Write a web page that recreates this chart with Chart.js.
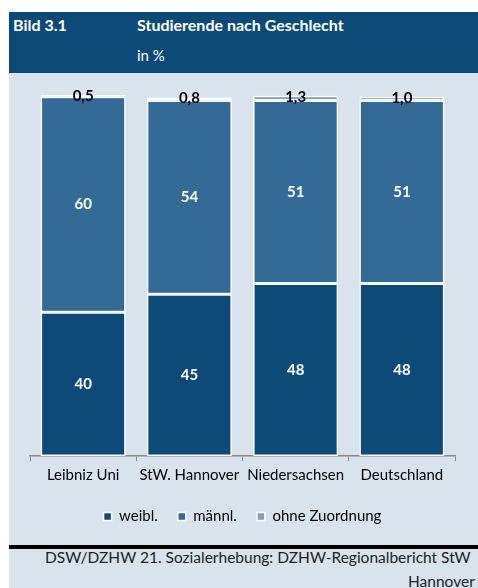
<!DOCTYPE html>
<html>
<head>
<meta charset="utf-8">
<script src="https://cdn.jsdelivr.net/npm/chart.js@4"></script>
<style>
  body { margin: 0; background: #fff; width: 478px; height: 588px; overflow: hidden; position: relative; font-family: Lato, sans-serif; }
  #panel { position: absolute; left: 9px; top: 12px; width: 480px; height: 580px; background: #d9e3ee; }
  #head { position: absolute; left: 0; top: 0; width: 100%; height: 61px; background: #0e4a78; color: #fff; font-size: 16px; }
  #head span { position: absolute; }
  #chartBox { position: absolute; left: 0; top: 61px; width: 469px; height: 472px; }
  #rule { position: absolute; left: 0; top: 533px; width: 100%; height: 4px; background: #000; }
  .foot { position: absolute; font-size: 15.5px; color: #222; white-space: nowrap; }
</style>
</head>
<body>
<div id="panel">
  <div id="head">
    <span style="left:4px;top:3px;font-weight:bold">Bild 3.1</span>
    <span style="left:128px;top:3px;font-weight:bold">Studierende nach Geschlecht</span>
    <span style="left:128px;top:34px;font-size:15px">in %</span>
  </div>
  <div id="chartBox"><canvas id="GenderChart"></canvas></div>
  <div id="rule"></div>
  <div class="foot" style="left:36px;top:536px">DSW/DZHW 21. Sozialerhebung: DZHW-Regionalbericht StW</div>
  <div class="foot" style="left:399px;top:560px">Hannover</div>
</div>
<script>
let Categories = ["Leibniz Uni", "StW. Hannover", "Niedersachsen", "Deutschland"]
let Weibl = [40, 45, 48, 48]
let Maennl = [60, 54, 51, 51]
let Ohne = [0.5, 0.8, 1.3, 1.0]

// draws the numbers into / on top of the bars
const valueLabels = {
  id: "valueLabels",
  afterDatasetsDraw(chart) {
    const ctx = chart.ctx
    ctx.save()
    ctx.font = "bold 15px Lato"
    ctx.textAlign = "center"
    ctx.textBaseline = "middle"
    chart.data.datasets.forEach((ds, i) => {
      chart.getDatasetMeta(i).data.forEach((bar, j) => {
        if (i == 2) {
          ctx.fillStyle = "#000"
          ctx.fillText(ds.data[j].toFixed(1).replace(".", ","), bar.x, bar.y + 1)
        } else {
          ctx.fillStyle = "#fff"
          ctx.fillText(Math.round(ds.data[j]), bar.x, (bar.y + bar.base) / 2)
        }
      })
    })
    ctx.restore()
  }
}

const ctx = document.getElementById("GenderChart").getContext("2d")

const config = {
  type: "bar",
  data: {
    labels: Categories,
    datasets: [
      { label: "weibl.", data: Weibl, backgroundColor: "#0e4a78" },
      { label: "männl.", data: Maennl, backgroundColor: "#336a96" },
      { label: "ohne Zuordnung", data: Ohne, backgroundColor: "#7f9fc0" }
    ]
  },
  options: {
    responsive: true,
    maintainAspectRatio: false,
    animation: false,
    layout: { padding: { left: 21, right: 23, top: 22, bottom: 11 } },
    datasets: {
      bar: { borderColor: "#fff", borderWidth: 1.5, borderSkipped: false, barPercentage: 0.8, categoryPercentage: 1 }
    },
    scales: {
      x: {
        stacked: true,
        grid: { offset: true, drawOnChartArea: false, drawTicks: true, tickLength: 5, color: "#8a8a8a" },
        border: { color: "#8a8a8a", width: 1.5 },
        ticks: { color: "#000", font: { family: "Lato", size: 15 }, padding: 5, maxRotation: 0 }
      },
      y: {
        stacked: true,
        display: false,
        min: 0,
        max: 100.5
      }
    },
    plugins: {
      legend: {
        position: "bottom",
        labels: { boxWidth: 8, boxHeight: 8, color: "#000", font: { family: "Lato", size: 15 }, padding: 20 }
      },
      tooltip: { enabled: false }
    }
  },
  plugins: [valueLabels]
}

const myChart = new Chart(ctx, config)
</script>
</body>
</html>
